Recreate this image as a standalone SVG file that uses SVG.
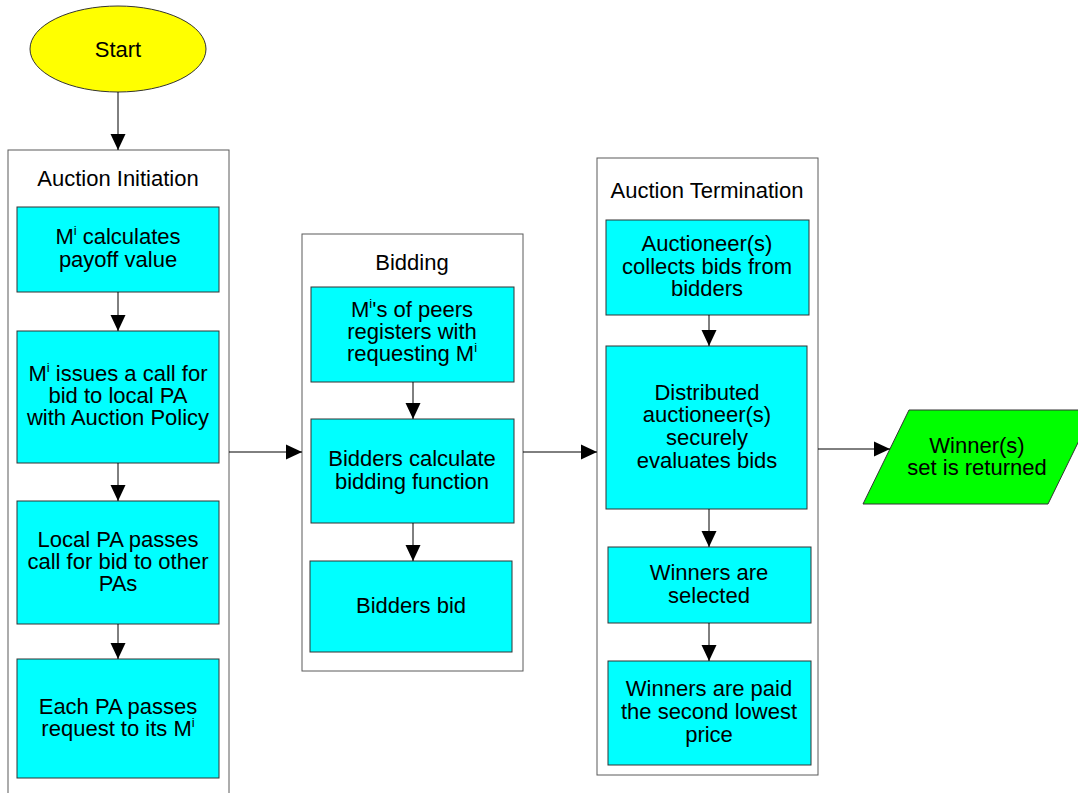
<svg xmlns="http://www.w3.org/2000/svg" width="1078" height="793" viewBox="0 0 1078 793">
  <style>
    text { font-family: "Liberation Sans", Arial, sans-serif; font-size: 22px; fill: #000; text-anchor: middle; }
    .sup { font-size: 13px; }
    .group { fill: #fff; stroke: #5a5a5a; stroke-width: 1; }
    .step { fill: #00ffff; stroke: #333; stroke-width: 1; }
    .conn { stroke: #000; stroke-width: 1; fill: none; marker-end: url(#arrow); }
  </style>
  <defs>
    <marker id="arrow" markerUnits="userSpaceOnUse" markerWidth="16" markerHeight="16" refX="16" refY="8" orient="auto">
      <path d="M0,0.5 L16,8 L0,15.5 z" fill="#000"/>
    </marker>
  </defs>
  <rect width="1078" height="793" fill="#fff"/>

  <!-- Start terminator -->
  <g id="start">
    <ellipse cx="118" cy="49" rx="88" ry="43" fill="#ffff00" stroke="#333" stroke-width="1"/>
    <text x="118" y="57">Start</text>
  </g>

  <!-- Phase 1: auction initiation -->
  <g id="auction-initiation">
    <rect class="group" x="8" y="150" width="221" height="660"/>
    <text x="118" y="186">Auction Initiation</text>
  </g>
  <g id="calc-payoff">
    <rect class="step" x="17" y="207" width="202" height="85"/>
    <text x="118" y="244">M<tspan class="sup" dy="-9">i</tspan><tspan dy="9"> calculates</tspan></text>
    <text x="118" y="267">payoff value</text>
  </g>
  <g id="call-for-bid">
    <rect class="step" x="17" y="331" width="202" height="132"/>
    <text x="118" y="381">M<tspan class="sup" dy="-9">i</tspan><tspan dy="9"> issues a call for</tspan></text>
    <text x="118" y="403">bid to local PA</text>
    <text x="118" y="425">with Auction Policy</text>
  </g>
  <g id="local-pa-passes">
    <rect class="step" x="17" y="501" width="202" height="123"/>
    <text x="118" y="547">Local PA passes</text>
    <text x="118" y="569">call for bid to other</text>
    <text x="118" y="591">PAs</text>
  </g>
  <g id="each-pa-passes">
    <rect class="step" x="17" y="659" width="202" height="119"/>
    <text x="118" y="714">Each PA passes</text>
    <text x="118" y="736">request to its M<tspan class="sup" dy="-9">i</tspan></text>
  </g>

  <!-- Phase 2: bidding -->
  <g id="bidding">
    <rect class="group" x="302" y="234" width="221" height="437"/>
    <text x="412" y="270">Bidding</text>
  </g>
  <g id="peers-register">
    <rect class="step" x="311" y="287" width="203" height="95"/>
    <text x="412" y="317">M<tspan class="sup" dy="-9">i</tspan><tspan dy="9">'s of peers</tspan></text>
    <text x="412" y="339">registers with</text>
    <text x="412" y="361">requesting M<tspan class="sup" dy="-9">i</tspan></text>
  </g>
  <g id="calc-bidding">
    <rect class="step" x="311" y="419" width="203" height="104"/>
    <text x="412" y="466">Bidders calculate</text>
    <text x="412" y="489">bidding function</text>
  </g>
  <g id="bidders-bid">
    <rect class="step" x="310" y="561" width="202" height="91"/>
    <text x="411" y="613">Bidders bid</text>
  </g>

  <!-- Phase 3: auction termination -->
  <g id="auction-termination">
    <rect class="group" x="597" y="158" width="221" height="617"/>
    <text x="707" y="198">Auction Termination</text>
  </g>
  <g id="collect-bids">
    <rect class="step" x="606" y="220" width="203" height="95"/>
    <text x="707" y="251">Auctioneer(s)</text>
    <text x="707" y="274">collects bids from</text>
    <text x="707" y="296">bidders</text>
  </g>
  <g id="evaluate-bids">
    <rect class="step" x="606" y="346" width="201" height="163"/>
    <text x="707" y="400">Distributed</text>
    <text x="707" y="422">auctioneer(s)</text>
    <text x="707" y="445">securely</text>
    <text x="707" y="468">evaluates bids</text>
  </g>
  <g id="winners-selected">
    <rect class="step" x="608" y="547" width="203" height="76"/>
    <text x="709" y="580">Winners are</text>
    <text x="709" y="603">selected</text>
  </g>
  <g id="winners-paid">
    <rect class="step" x="608" y="661" width="203" height="104"/>
    <text x="709" y="696">Winners are paid</text>
    <text x="709" y="719">the second lowest</text>
    <text x="709" y="742">price</text>
  </g>

  <!-- Output -->
  <g id="winners-returned">
    <polygon points="909,410 1094,410 1048,504 863,504" fill="#00ff00" stroke="#333" stroke-width="1"/>
    <text x="977" y="453">Winner(s)</text>
    <text x="977" y="475">set is returned</text>
  </g>

  <!-- Connectors -->
  <g id="connectors">
    <line class="conn" x1="118" y1="92" x2="118" y2="150"/>
    <line class="conn" x1="118" y1="292" x2="118" y2="331"/>
    <line class="conn" x1="118" y1="463" x2="118" y2="501"/>
    <line class="conn" x1="118" y1="624" x2="118" y2="659"/>
    <line class="conn" x1="229" y1="452" x2="302" y2="452"/>
    <line class="conn" x1="413" y1="382" x2="413" y2="419"/>
    <line class="conn" x1="413" y1="523" x2="413" y2="561"/>
    <line class="conn" x1="523" y1="452" x2="597" y2="452"/>
    <line class="conn" x1="709" y1="315" x2="709" y2="346"/>
    <line class="conn" x1="709" y1="509" x2="709" y2="547"/>
    <line class="conn" x1="709" y1="623" x2="709" y2="661"/>
    <line class="conn" x1="818" y1="449" x2="890" y2="449"/>
  </g>
</svg>
